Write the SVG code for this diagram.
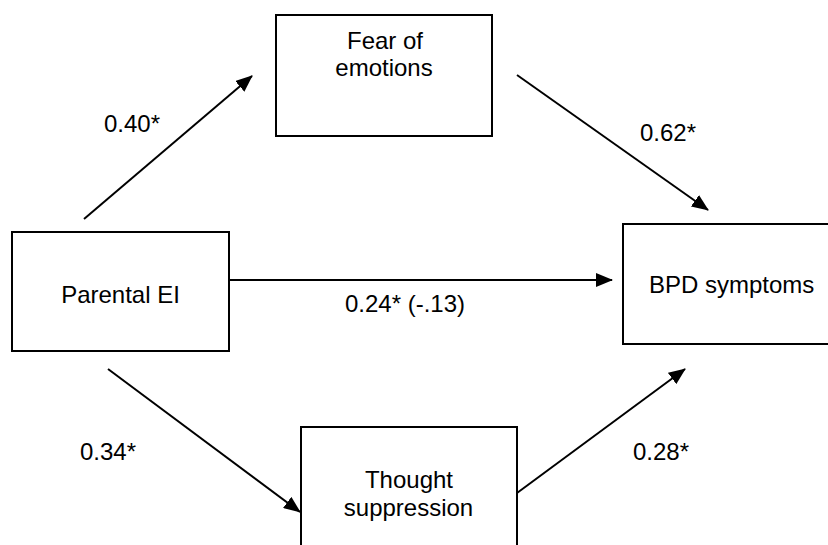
<svg xmlns="http://www.w3.org/2000/svg" width="828" height="545" viewBox="0 0 828 545">
  <style>
    .box { fill: #ffffff; stroke: #000000; stroke-width: 2; }
    .lbl { font-family: "Liberation Sans", Arial, sans-serif; font-size: 24px; fill: #000000; }
    .mid { text-anchor: middle; }
    .edge { stroke: #000000; stroke-width: 2; fill: none; marker-end: url(#head); }
  </style>
  <defs>
    <marker id="head" markerUnits="userSpaceOnUse" markerWidth="18" markerHeight="14" refX="16" refY="7" orient="auto">
      <path d="M0,0 L17,7 L0,14 Z" fill="#000000"/>
    </marker>
  </defs>
  <rect width="828" height="545" fill="#ffffff"/>

  <g id="connectors">
    <line class="edge" x1="84" y1="219" x2="252" y2="76"/>
    <line class="edge" x1="517" y1="75" x2="708" y2="210"/>
    <line class="edge" x1="229" y1="280" x2="612" y2="280"/>
    <line class="edge" x1="108" y1="369" x2="300" y2="512"/>
    <line class="edge" x1="517" y1="493" x2="685" y2="369"/>
  </g>

  <g id="coefficients">
    <text class="lbl" x="104" y="132">0.40*</text>
    <text class="lbl" x="640" y="141">0.62*</text>
    <text class="lbl" x="345" y="312">0.24* (-.13)</text>
    <text class="lbl" x="80" y="460">0.34*</text>
    <text class="lbl" x="633" y="460">0.28*</text>
  </g>

  <g id="fear-of-emotions">
    <rect class="box" x="276" y="15" width="216" height="121"/>
    <text class="lbl mid" x="385" y="49">Fear of</text>
    <text class="lbl mid" x="384" y="76">emotions</text>
  </g>

  <g id="parental-ei">
    <rect class="box" x="12" y="232" width="217" height="119"/>
    <text class="lbl mid" x="120.5" y="303">Parental EI</text>
  </g>

  <g id="bpd-symptoms">
    <rect class="box" x="623" y="224" width="220" height="120"/>
    <text class="lbl" x="649" y="293">BPD symptoms</text>
  </g>

  <g id="thought-suppression">
    <rect class="box" x="301" y="427" width="216" height="130"/>
    <text class="lbl mid" x="409" y="488">Thought</text>
    <text class="lbl mid" x="408.5" y="516">suppression</text>
  </g>
</svg>
